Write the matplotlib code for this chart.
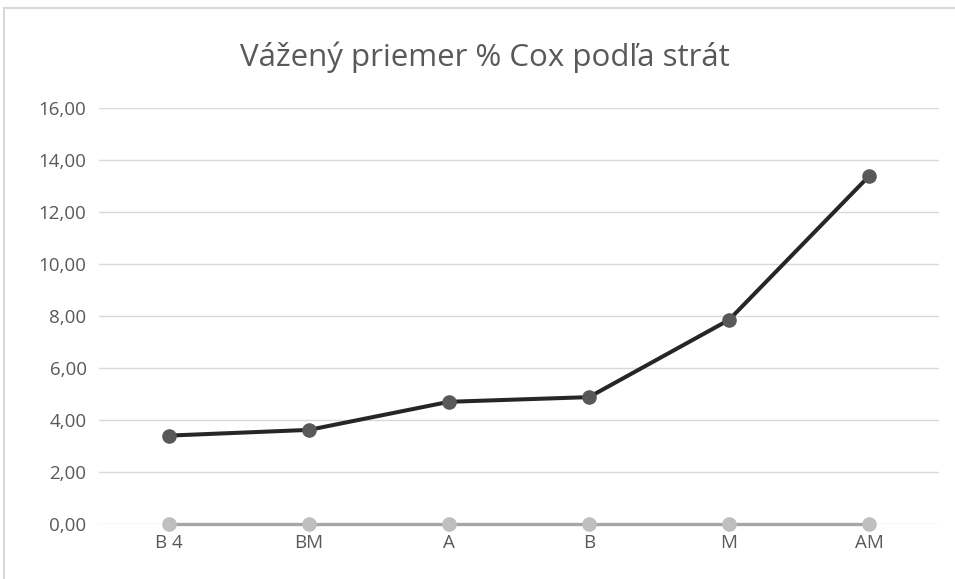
import matplotlib.pyplot as plt
from matplotlib.patches import Rectangle
from matplotlib.ticker import FuncFormatter

kategorie = ['B 4', 'BM', 'A', 'B', 'M', 'AM']
cox = [3.40, 3.62, 4.70, 4.88, 7.85, 13.38]
nula = [0, 0, 0, 0, 0, 0]

plt.rcParams['font.family'] = ['Open Sans', 'DejaVu Sans']

fig = plt.figure(figsize=(9.55, 5.79), dpi=100)
# ram grafu (oreze na pravom a dolnom okraji)
fig.patches.append(Rectangle((4 / 955, -0.1), 1.2, (579 - 8) / 579 + 0.1,
                             transform=fig.transFigure, fill=False,
                             edgecolor='#d9d9d9', linewidth=1.5))

ax = fig.add_axes([99 / 955, 55 / 579, 840 / 955, 416 / 579])
x = range(len(kategorie))
ax.plot(x, nula, color='#a6a6a6', linewidth=2.4, marker='o', clip_on=False,
        markersize=9.5, markerfacecolor='#bfbfbf', markeredgecolor='#bfbfbf', zorder=3)
ax.plot(x, cox, color='#262626', linewidth=2.9, marker='o', clip_on=False,
        markersize=9.5, markerfacecolor='#595959', markeredgecolor='#595959', zorder=4)

ax.set_xlim(-0.5, 5.5)
ax.set_ylim(0, 16)
ax.set_yticks(range(0, 17, 2))
ax.yaxis.set_major_formatter(FuncFormatter(lambda v, p: f'{v:.2f}'.replace('.', ',')))
ax.set_xticks(list(x))
ax.set_xticklabels(kategorie)
ax.grid(axis='y', color='#d9d9d9', linewidth=1)
ax.set_axisbelow(True)
for s in ax.spines.values():
    s.set_visible(False)
ax.tick_params(length=0, labelsize=13.5, labelcolor='#595959')
ax.tick_params(axis='y', pad=9)
ax.tick_params(axis='x', pad=7)

fig.text(485 / 955, 1 - 57 / 579, 'Vážený priemer % Cox podľa strát', ha='center', va='center',
         fontsize=22.5, color='#595959')

fig.savefig('out.png', dpi=100)
